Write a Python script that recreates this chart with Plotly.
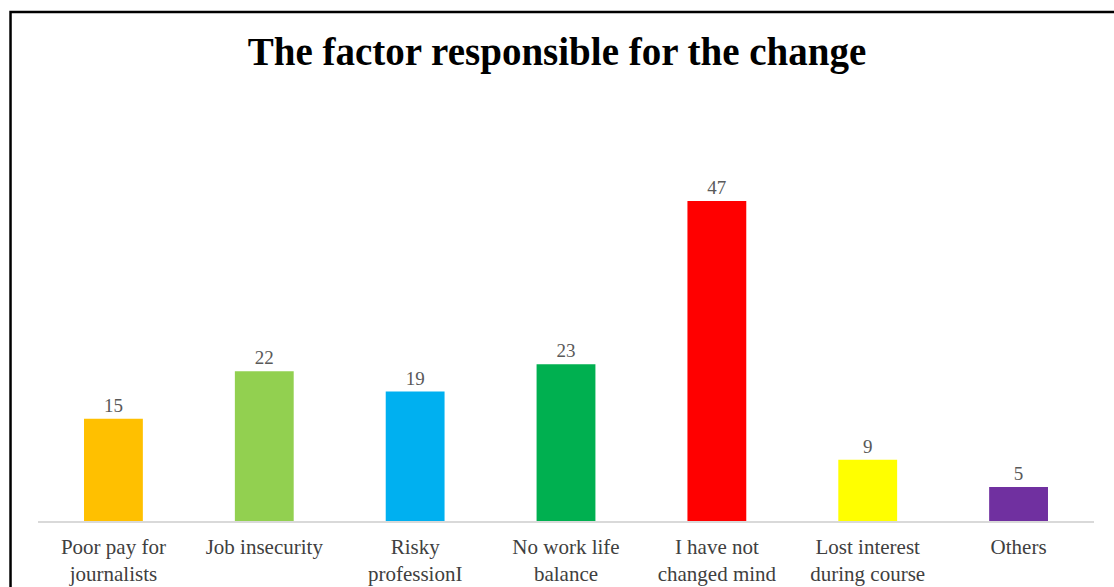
import plotly.graph_objects as go

categories = [
    "Poor pay for<br>journalists",
    "Job insecurity",
    "Risky<br>professionI",
    "No work life<br>balance",
    "I have not<br>changed mind",
    "Lost interest<br>during course",
    "Others",
]
values = [15, 22, 19, 23, 47, 9, 5]
bar_colors = ["#FFC000", "#92D050", "#00B0F0", "#00B050", "#FF0000", "#FFFF00", "#7030A0"]

W, H = 1114, 587
m_l, m_r, m_t, m_b = 37.5, 19.5, 140, 66
plot_w = W - m_l - m_r
plot_h = H - m_t - m_b
px_per_unit = 6.81
y_max = plot_h / px_per_unit

fig = go.Figure(
    go.Bar(
        x=categories,
        y=values,
        marker=dict(color=bar_colors, line=dict(width=0)),
        width=0.39,
        text=[str(v) for v in values],
        textposition="outside",
        textfont=dict(family="Liberation Serif", size=19, color="#595959"),
        cliponaxis=False,
    )
)

# frame around the chart (left and top edges)
bx = (10 - m_l) / plot_w
by_top = 1 + (m_t - 12) / plot_h
by_bot = -(H + 20 - (H - m_b)) / plot_h
bx_right = 1 + (m_r + 20) / plot_w
fig.add_shape(
    type="path",
    xref="paper", yref="paper",
    path=f"M {bx} {by_bot} L {bx} {by_top} L {bx_right} {by_top}",
    line=dict(color="black", width=2.5),
)

fig.update_layout(
    width=W, height=H,
    margin=dict(l=m_l, r=m_r, t=m_t, b=m_b, pad=0, autoexpand=False),
    paper_bgcolor="white",
    plot_bgcolor="white",
    showlegend=False,
    title=dict(
        text="<b>The factor responsible for the change</b>",
        x=0.5, xanchor="center",
        y=1 - 51 / H, yanchor="middle",
        font=dict(family="Liberation Serif", size=39, color="black"),
    ),
    xaxis=dict(
        automargin=False,
        showline=True, linecolor="#D9D9D9", linewidth=1.5,
        showgrid=False, ticks="",
        ticklabelstandoff=6,
        tickfont=dict(family="Liberation Serif", size=21, color="#404040"),
    ),
    yaxis=dict(
        automargin=False,
        range=[0, y_max], visible=False, showgrid=False, zeroline=False,
    ),
)

fig.write_html("out.html")
